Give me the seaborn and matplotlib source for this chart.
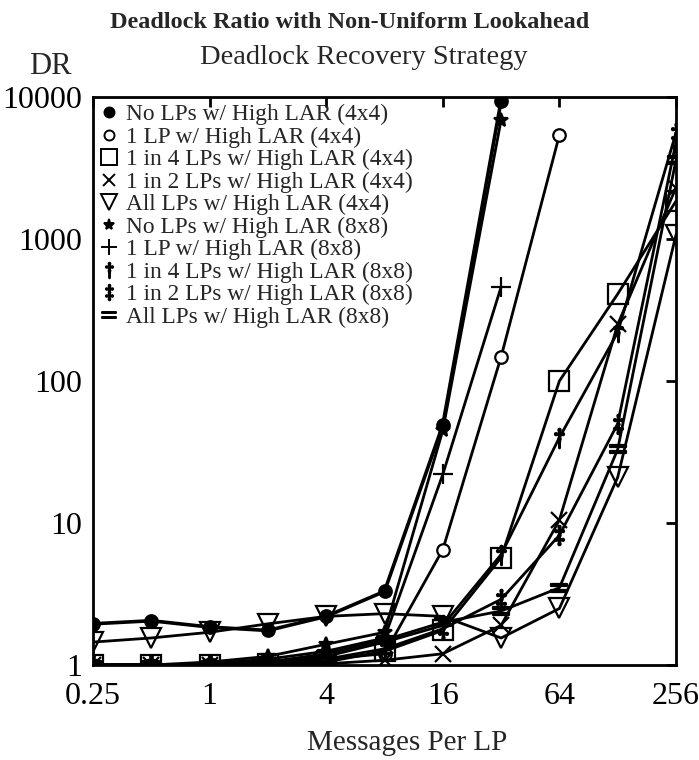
import matplotlib
matplotlib.use("Agg")
import matplotlib.pyplot as plt
from matplotlib.lines import Line2D
import seaborn as sns
import pandas as pd

sns.set_theme(style="white")
plt.rcParams['font.family'] = ['Liberation Serif', 'DejaVu Serif']
plt.rcParams['mathtext.fontset'] = 'stix'

x_vals = [0.25, 0.5, 1, 2, 4, 8, 16, 32, 64, 128, 256]
x_ticks = [0.25, 1, 4, 16, 64, 256]
x_tick_labels = ["0.25", "1", "4", "16", "64", "256"]
y_ticks = [1, 10, 100, 1000, 10000]
y_tick_labels = ["1", "10", "100", "1000", "10000"]

labels = [
    "No LPs w/ High LAR (4x4)",
    "1 LP w/ High LAR (4x4)",
    "1 in 4 LPs w/ High LAR (4x4)",
    "1 in 2 LPs w/ High LAR (4x4)",
    "All LPs w/ High LAR (4x4)",
    "No LPs w/ High LAR (8x8)",
    "1 LP w/ High LAR (8x8)",
    "1 in 4 LPs w/ High LAR (8x8)",
    "1 in 2 LPs w/ High LAR (8x8)",
    "All LPs w/ High LAR (8x8)",
]

no_lps_4 = [1.95, 2.05, 1.85, 1.75, 2.2, 3.3, 49, 9400]
one_lp_4 = [1.0, 1.0, 1.02, 1.05, 1.1, 1.2, 6.5, 148, 5400]
one_in4_4 = [1.0, 1.0, 1.0, 1.02, 1.05, 1.25, 1.75, 5.7, 100, 410, 1850]
one_in2_4 = [1.0, 1.0, 1.0, 1.0, 1.02, 1.08, 1.2, 1.9, 10.5, 250, 2300]
all_lps_4 = [1.45, 1.55, 1.7, 1.95, 2.2, 2.3, 2.2, 1.55, 2.5, 21, 1070]
no_lps_8 = [1.0, 1.0, 1.05, 1.15, 1.4, 1.7, 45, 6900]
one_lp_8 = [1.0, 1.0, 1.02, 1.1, 1.25, 1.55, 22, 460]
one_in4_8 = [1.0, 1.0, 1.0, 1.05, 1.15, 1.45, 1.9, 6.0, 40, 220, 5600]
one_in2_8 = [1.0, 1.0, 1.0, 1.02, 1.1, 1.3, 1.8, 2.9, 8.2, 50, 4800]
all_lps_8 = [1.0, 1.0, 1.0, 1.05, 1.2, 1.5, 2.0, 2.4, 3.5, 33, 3600]

series = [no_lps_4, one_lp_4, one_in4_4, one_in2_4, all_lps_4,
          no_lps_8, one_lp_8, one_in4_8, one_in2_8, all_lps_8]

styles = [
    dict(marker='o', markersize=9, markerfacecolor='black', lw=2.6),
    dict(marker='o', markersize=9, markerfacecolor='white', lw=2.0),
    dict(marker='s', markersize=14, markerfacecolor='none', lw=2.0),
    dict(marker='x', markersize=11, markerfacecolor='none', lw=2.0),
    dict(marker='v', markersize=14, markerfacecolor='none', lw=2.0),
    dict(marker='*', markersize=10, markerfacecolor='black', lw=2.0),
    dict(marker='+', markersize=14, markerfacecolor='none', lw=2.0),
    dict(marker=r'$\dagger$', markersize=14, markerfacecolor='black', lw=2.0),
    dict(marker=r'$\ddagger$', markersize=14, markerfacecolor='black', lw=2.0),
    dict(marker=r'$=$', markersize=12, markerfacecolor='black', lw=2.0),
]

fig = plt.figure(figsize=(6.99, 7.60), dpi=100)
ax = fig.add_axes([93/699, 1-665/760, (676-93)/699, (665-97)/760])

handles = []
for lab, vals, st in zip(labels, series, styles):
    df = pd.DataFrame({"x": x_vals[:len(vals)], "y": vals})
    sns.lineplot(data=df, x="x", y="y", ax=ax, color='black', linewidth=st['lw'],
                 marker=st['marker'], markersize=st['markersize'],
                 markerfacecolor=st['markerfacecolor'], markeredgecolor='black',
                 markeredgewidth=1.6, legend=False)
    handles.append(Line2D([], [], linestyle='none', color='black', marker=st['marker'],
                          markersize=st['markersize'] * 0.8,
                          markerfacecolor=st['markerfacecolor'],
                          markeredgecolor='black', markeredgewidth=1.4))

ax.set_xscale('log', base=2)
ax.set_yscale('log')
ax.set_xlim(0.25, 256)
ax.set_ylim(1, 10000)
ax.set_xticks(x_ticks)
ax.set_xticklabels(x_tick_labels)
ax.set_yticks(y_ticks)
ax.set_yticklabels(y_tick_labels)
ax.minorticks_off()
ax.tick_params(axis='both', labelsize=23, colors='black', width=2, length=7)
ax.tick_params(axis='x', direction='out', top=True, pad=5)
ax.tick_params(axis='y', direction='out', right=True, pad=1)
ax.tick_params(which='both', top=True, right=True)
for t in ax.xaxis.get_major_ticks():
    t.tick2line.set_marker(matplotlib.lines.TICKDOWN)
for t in ax.yaxis.get_major_ticks():
    t.tick2line.set_marker(matplotlib.lines.TICKLEFT)
for s in ax.spines.values():
    s.set_color('black')
    s.set_linewidth(2)
ax.set_xlabel("")
ax.set_ylabel("")
fig.text(407/699, 1-743/760, "Messages Per LP", ha='center', va='center', fontsize=21)

ax.legend(handles, labels, loc='upper left', frameon=False, fontsize=16.8,
          handlelength=0.8, handletextpad=0.3, labelspacing=0.05,
          borderaxespad=0.1, borderpad=0.2)

fig.text(0.5, 1-22/760, "Deadlock Ratio with Non-Uniform Lookahead", ha='center', va='center',
         fontsize=17.5, fontweight='bold')
fig.text(364/699, 1-57/760, "Deadlock Recovery Strategy", ha='center', va='center', fontsize=20.5)
fig.text(50/699, 1-67/760, "DR", ha='center', va='center', fontsize=22)

fig.savefig("out.png", dpi=100)
